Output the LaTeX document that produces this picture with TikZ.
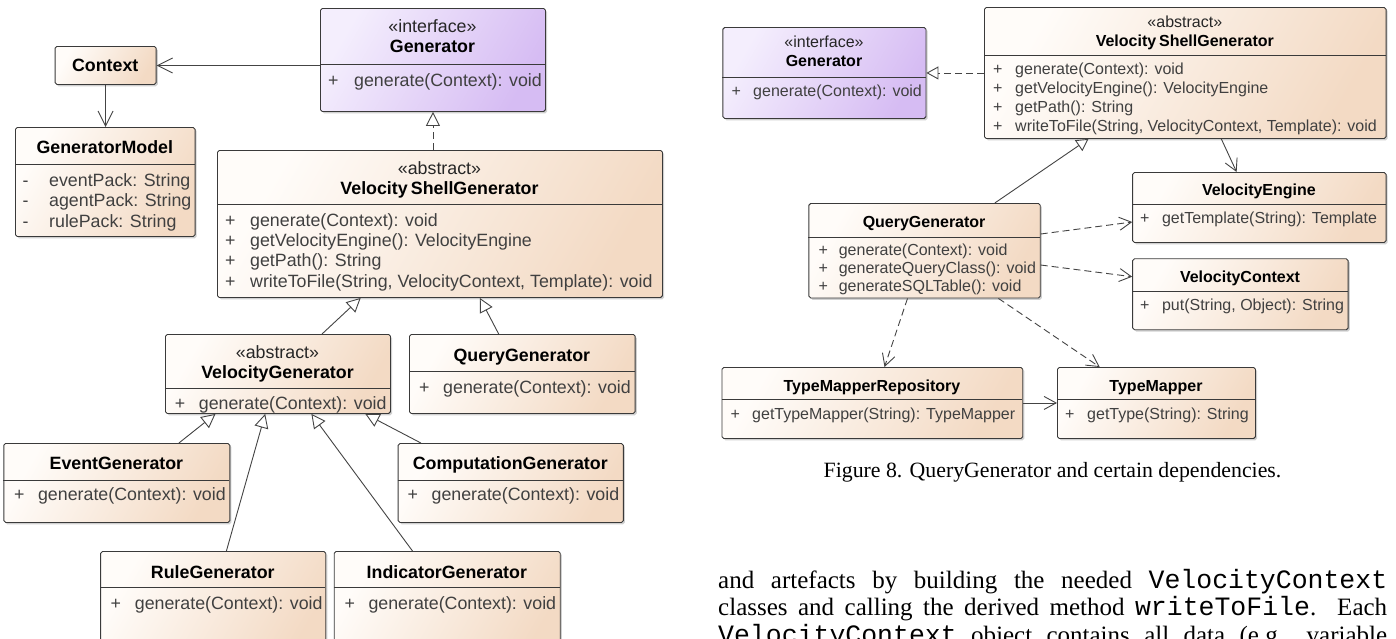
\documentclass[tikz,border=0pt]{standalone}
\usepackage{fontspec}
\setmainfont{Liberation Sans}
\newfontfamily\bodyserif{Liberation Serif}
\newfontfamily\bodymono{Liberation Mono}
\usetikzlibrary{arrows.meta,shadows}

\definecolor{boxline}{HTML}{3A3A3A}
\definecolor{clsA}{HTML}{FFFCF9}
\definecolor{clsB}{HTML}{F3DAC4}
\definecolor{ifA}{HTML}{F4EEFD}
\definecolor{ifB}{HTML}{D6BCF3}
\definecolor{memtext}{HTML}{404040}
\definecolor{wire}{HTML}{444444}

\tikzset{
  classbox/.style={draw=boxline, line width=0.9pt, rounded corners=1.8pt,
    top color=clsA, bottom color=clsB, shading angle=60,
    drop shadow={shadow xshift=1.6pt, shadow yshift=-1.8pt, opacity=0.3, fill=black!60},
    inner sep=0pt, anchor=north west},
  ifacebox/.style={classbox, top color=ifA, bottom color=ifB, shading angle=60},
  sepline/.style={draw=boxline, line width=0.9pt},
  % left diagram lettering
  Lbase/.style={inner sep=0pt, text height=12.8pt, text depth=0pt},
  Ltitle/.style={Lbase, font=\fontsize{17.8}{21}\selectfont\bfseries, text=black},
  Lstereo/.style={Lbase, font=\fontsize{17.8}{21}\selectfont, text=black!85},
  Lmem/.style={Lbase, font=\fontsize{17.8}{21}\selectfont, text=memtext, anchor=west},
  % right diagram lettering
  Rbase/.style={inner sep=0pt, text height=11.5pt, text depth=0pt},
  Rtitle/.style={Rbase, font=\fontsize{16}{19}\selectfont\bfseries, text=black},
  Rstereo/.style={Rbase, font=\fontsize{16}{19}\selectfont, text=black!85},
  Rmem/.style={Rbase, font=\fontsize{16}{19}\selectfont, text=memtext, anchor=west},
  % connectors
  wirebase/.style={draw=wire, line width=0.9pt},
  assocL/.style={wirebase, -{Straight Barb[length=15pt, width=15pt]}},
  assocR/.style={wirebase, -{Straight Barb[length=12pt, width=13pt]}},
  generalL/.style={wirebase, -{Triangle[length=14pt, width=14pt, fill=white]}},
  generalR/.style={wirebase, -{Triangle[length=12pt, width=13pt, fill=white]}},
  realizeL/.style={generalL, dash pattern=on 7pt off 4pt},
  realizeR/.style={generalR, dash pattern=on 7pt off 4pt},
  depend/.style={assocR, dash pattern=on 7pt off 4pt},
  % page text
  bodytext/.style={inner sep=0pt, font=\bodyserif\fontsize{25}{27.5}\selectfont, anchor=base west},
  captext/.style={inner sep=0pt, font=\bodyserif\fontsize{21.8}{25}\selectfont, anchor=base},
}
\newcommand\mono[1]{{\bodymono\fontsize{26.5}{27.5}\selectfont #1}}

\begin{document}
\begin{tikzpicture}[x=1pt, y=-1pt]
\useasboundingbox (0,0) rectangle (1396,638);
\fill[white] (0,0) rectangle (1396,638);
\clip (0,0) rectangle (1396,638);

%% ---------------- left diagram ----------------
% Context
\node[classbox, minimum width=101.1pt, minimum height=38pt] (ctx) at (54.6,46) {};
\node[Ltitle] (ctx-t) at (105.2,65) {Context};

% Generator interface
\node[ifacebox, minimum width=225pt, minimum height=103pt] (genL) at (320,8) {};
\node[Lstereo] (genL-s) at (432.5,26) {«interface»};
\node[Ltitle] (genL-t) at (432.5,46.5) {Generator};
\draw[sepline] (320,64) -- (545,64);
\node[Lmem] (genL-p1) at (328,80.5) {+};
\node[Lmem] (genL-m1) at (354,80.5) {generate(Context): void};

% GeneratorModel
\node[classbox, minimum width=179.6pt, minimum height=109pt] (gm) at (15,127) {};
\node[Ltitle] (gm-t) at (104.8,147) {GeneratorModel};
\draw[sepline] (15,164) -- (194.6,164);
\node[Lmem] (gm-p1) at (22.5,180) {-};
\node[Lmem] (gm-m1) at (49,180) {eventPack: String};
\node[Lmem] (gm-p2) at (22.5,200) {-};
\node[Lmem] (gm-m2) at (49,200) {agentPack: String};
\node[Lmem] (gm-p3) at (22.5,221) {-};
\node[Lmem] (gm-m3) at (49,221) {rulePack: String};

% VelocityShellGenerator
\node[classbox, minimum width=445pt, minimum height=147pt] (vsgL) at (217,150) {};
\node[Lstereo] (vsgL-s) at (439.5,168) {«abstract»};
\node[Ltitle] (vsgL-t) at (439.5,188) {Velocity\hspace{0.18em}ShellGenerator};
\draw[sepline] (217,204) -- (662,204);
\node[Lmem] (vsgL-p1) at (225,220) {+};
\node[Lmem] (vsgL-m1) at (250,220) {generate(Context): void};
\node[Lmem] (vsgL-p2) at (225,240) {+};
\node[Lmem] (vsgL-m2) at (250,240) {getVelocityEngine(): VelocityEngine};
\node[Lmem] (vsgL-p3) at (225,260.5) {+};
\node[Lmem] (vsgL-m3) at (250,260.5) {getPath(): String};
\node[Lmem] (vsgL-p4) at (225,281) {+};
\node[Lmem] (vsgL-m4) at (250,281) {writeToFile(String, VelocityContext, Template): void};

% VelocityGenerator
\node[classbox, minimum width=225pt, minimum height=79pt] (vgL) at (165,334) {};
\node[Lstereo] (vgL-s) at (277.5,352) {«abstract»};
\node[Ltitle] (vgL-t) at (277.5,372) {VelocityGenerator};
\draw[sepline] (165,388) -- (390,388);
\node[Lmem] (vgL-p1) at (174.7,403) {+};
\node[Lmem] (vgL-m1) at (198.7,403) {generate(Context): void};

% QueryGenerator
\node[classbox, minimum width=225.7pt, minimum height=79pt] (qgL) at (409,334) {};
\node[Ltitle] (qgL-t) at (521.9,355) {QueryGenerator};
\draw[sepline] (409,371) -- (634.7,371);
\node[Lmem] (qgL-p1) at (418.8,387) {+};
\node[Lmem] (qgL-m1) at (443,387) {generate(Context): void};

% EventGenerator
\node[classbox, minimum width=226pt, minimum height=79pt] (ev) at (3.4,443) {};
\node[Ltitle] (ev-t) at (116.4,463) {EventGenerator};
\draw[sepline] (3.4,480) -- (229.4,480);
\node[Lmem] (ev-p1) at (13.9,494) {+};
\node[Lmem] (ev-m1) at (37.9,494) {generate(Context): void};

% ComputationGenerator
\node[classbox, minimum width=225.2pt, minimum height=79pt] (comp) at (397.7,443) {};
\node[Ltitle] (comp-t) at (510.3,463) {ComputationGenerator};
\draw[sepline] (397.7,480) -- (622.9,480);
\node[Lmem] (comp-p1) at (407.4,494) {+};
\node[Lmem] (comp-m1) at (431.4,494) {generate(Context): void};

% RuleGenerator
\node[classbox, minimum width=225.1pt, minimum height=109pt] (rule) at (100.2,551) {};
\node[Ltitle] (rule-t) at (212.8,572) {RuleGenerator};
\draw[sepline] (100.2,587) -- (325.3,587);
\node[Lmem] (rule-p1) at (110.3,603) {+};
\node[Lmem] (rule-m1) at (134.7,603) {generate(Context): void};

% IndicatorGenerator
\node[classbox, minimum width=226pt, minimum height=109pt] (ind) at (333.8,551) {};
\node[Ltitle] (ind-t) at (446.8,572) {IndicatorGenerator};
\draw[sepline] (333.8,587) -- (559.8,587);
\node[Lmem] (ind-p1) at (344.3,603) {+};
\node[Lmem] (ind-m1) at (368.3,603) {generate(Context): void};

% relations
\draw[assocL] (genL.west |- ctx.east) -- (ctx.east);
\draw[assocL] (ctx.south) -- (ctx.south |- gm.north);
\draw[realizeL] (vsgL.north -| genL.south) -- (genL.south);
\draw[generalL] ([xshift=157pt]vgL.north west) -- ([xshift=143.7pt]vsgL.south west);
\draw[generalL] ([xshift=89.7pt]qgL.north west) -- ([xshift=262.8pt]vsgL.south west);
\draw[generalL] ([xshift=175.5pt]ev.north west) -- ([xshift=50.5pt]vgL.south west);
\draw[generalL] ([xshift=126.2pt]rule.north west) -- ([xshift=100.2pt]vgL.south west);
\draw[generalL] ([xshift=78.7pt]ind.north west) -- ([xshift=146.4pt]vgL.south west);
\draw[generalL] ([xshift=23.2pt]comp.north west) -- ([xshift=200.3pt]vgL.south west);

%% ---------------- right diagram ----------------
% Generator interface
\node[ifacebox, minimum width=203.1pt, minimum height=91pt] (genR) at (722.4,27) {};
\node[Rstereo] (genR-s) at (824,42) {«interface»};
\node[Rtitle] (genR-t) at (824,61) {Generator};
\draw[sepline] (722.4,77) -- (925.5,77);
\node[Rmem] (genR-p1) at (731.4,91) {+};
\node[Rmem] (genR-m1) at (753,91) {generate(Context): void};

% VelocityShellGenerator
\node[classbox, minimum width=401.6pt, minimum height=131pt] (vsgR) at (984,7) {};
\node[Rstereo] (vsgR-s) at (1184.8,22) {«abstract»};
\node[Rtitle] (vsgR-t) at (1184.8,41) {Velocity\hspace{0.18em}ShellGenerator};
\draw[sepline] (984,55) -- (1385.6,55);
\node[Rmem] (vsgR-p1) at (993,69) {+};
\node[Rmem] (vsgR-m1) at (1015,69) {generate(Context): void};
\node[Rmem] (vsgR-p2) at (993,88) {+};
\node[Rmem] (vsgR-m2) at (1015,88) {getVelocityEngine(): VelocityEngine};
\node[Rmem] (vsgR-p3) at (993,107) {+};
\node[Rmem] (vsgR-m3) at (1015,107) {getPath(): String};
\node[Rmem] (vsgR-p4) at (993,125.5) {+};
\node[Rmem] (vsgR-m4) at (1015,125.5) {writeToFile(String, VelocityContext, Template): void};

% QueryGenerator
\node[classbox, minimum width=231.4pt, minimum height=94.5pt] (qgR) at (808.4,203) {};
\node[Rtitle] (qgR-t) at (924.1,222) {QueryGenerator};
\draw[sepline] (808.4,237) -- (1039.8,237);
\node[Rmem] (qgR-p1) at (818.3,250) {+};
\node[Rmem] (qgR-m1) at (838.6,250) {generate(Context): void};
\node[Rmem] (qgR-p2) at (818.3,268) {+};
\node[Rmem] (qgR-m2) at (838.6,268) {generateQueryClass(): void};
\node[Rmem] (qgR-p3) at (818.3,285.5) {+};
\node[Rmem] (qgR-m3) at (838.6,285.5) {generateSQLTable(): void};

% VelocityEngine
\node[classbox, minimum width=253.4pt, minimum height=70pt] (ve) at (1132.2,172) {};
\node[Rtitle] (ve-t) at (1258.9,190) {VelocityEngine};
\draw[sepline] (1132.2,204) -- (1385.6,204);
\node[Rmem] (ve-p1) at (1140,218) {+};
\node[Rmem] (ve-m1) at (1161.8,218) {getTemplate(String): Template};

% VelocityContext
\node[classbox, minimum width=215.5pt, minimum height=71pt] (vc) at (1132.2,258.3) {};
\node[Rtitle] (vc-t) at (1240,277) {VelocityContext};
\draw[sepline] (1132.2,291) -- (1347.7,291);
\node[Rmem] (vc-p1) at (1140,305) {+};
\node[Rmem] (vc-m1) at (1161.8,305) {put(String, Object): String};

% TypeMapperRepository
\node[classbox, minimum width=300.8pt, minimum height=71pt] (tmr) at (721.5,367) {};
\node[Rtitle] (tmr-t) at (871.9,386) {TypeMapperRepository};
\draw[sepline] (721.5,399) -- (1022.3,399);
\node[Rmem] (tmr-p1) at (730.5,414) {+};
\node[Rmem] (tmr-m1) at (752,414) {getTypeMapper(String): TypeMapper};

% TypeMapper
\node[classbox, minimum width=198pt, minimum height=71pt] (tm) at (1057,367) {};
\node[Rtitle] (tm-t) at (1156,386) {TypeMapper};
\draw[sepline] (1057,399) -- (1255,399);
\node[Rmem] (tm-p1) at (1065,414) {+};
\node[Rmem] (tm-m1) at (1087,414) {getType(String): String};

% relations
\draw[realizeR] (vsgR.west) -- (vsgR.west -| genR.east);
\draw[generalR] ([xshift=186.4pt]qgR.north west) -- ([xshift=104.5pt]vsgR.south west);
\draw[assocR] ([xshift=237.3pt]vsgR.south west) -- ([xshift=104.4pt]ve.north west);
\draw[depend] ([yshift=-31pt]qgR.north east) -- ([yshift=-50pt]ve.north west);
\draw[depend] ([yshift=-62pt]qgR.north east) -- ([yshift=-18.4pt]vc.north west);
\draw[depend] ([xshift=99.1pt]qgR.south west) -- ([xshift=163pt]tmr.north west);
\draw[depend] ([xshift=190pt]qgR.south west) -- ([xshift=42.7pt]tm.north west);
\draw[assocR] (tmr.east) -- (tm.west);

%% ---------------- caption and running text ----------------
\node[captext] (fig8) at (1052.5,477) {Figure 8. QueryGenerator and certain dependencies.};
\node[bodytext] (body1) at (718,588) {\makebox[669pt][s]{and artefacts by building the needed \mono{VelocityContext}}};
\node[bodytext] (body2) at (718,615.5) {\makebox[669pt][s]{classes and calling the derived method \mono{writeToFile}. Each}};
\node[bodytext] (body3) at (718,643) {\makebox[669pt][s]{\mono{VelocityContext} object contains all data (e.g., variable}};
\end{tikzpicture}
\end{document}
